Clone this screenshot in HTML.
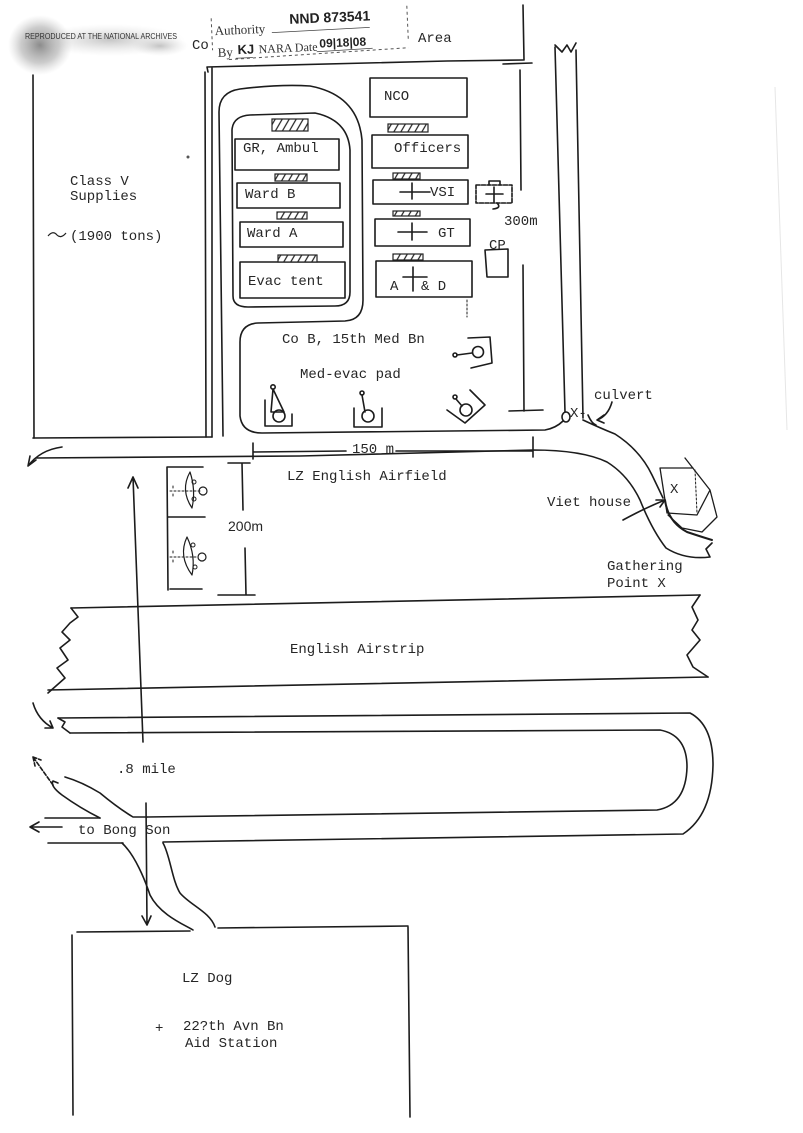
<!DOCTYPE html>
<html><head><meta charset="utf-8"><style>
html,body{margin:0;padding:0;background:#fff;}
svg{display:block}
.t{font-family:"Liberation Mono",monospace;font-size:14px;fill:#262626}
.s{font-family:"Liberation Serif",serif;fill:#333}
.h{font-family:"Liberation Sans",sans-serif;font-weight:bold;fill:#222}
</style></head><body>
<svg width="803" height="1133" viewBox="0 0 803 1133" xmlns="http://www.w3.org/2000/svg">
<defs>
<pattern id="hatch" width="7" height="10" patternUnits="userSpaceOnUse" patternTransform="skewX(-30)">
<rect width="7" height="10" fill="#fff"/>
<line x1="1" y1="0" x2="1" y2="10" stroke="#222" stroke-width="1.4"/>
</pattern>
<radialGradient id="sm1" cx="50%" cy="50%" r="50%">
<stop offset="0" stop-color="#777" stop-opacity="0.85"/>
<stop offset="0.6" stop-color="#999" stop-opacity="0.5"/>
<stop offset="1" stop-color="#bbb" stop-opacity="0"/>
</radialGradient>
<radialGradient id="sm2" cx="50%" cy="50%" r="50%">
<stop offset="0" stop-color="#999" stop-opacity="0.55"/>
<stop offset="1" stop-color="#ccc" stop-opacity="0"/>
</radialGradient>
</defs>

<!-- header smudge -->
<ellipse cx="40" cy="45" rx="32" ry="30" fill="url(#sm1)"/>
<ellipse cx="110" cy="40" rx="75" ry="16" fill="url(#sm2)"/>
<ellipse cx="160" cy="46" rx="28" ry="10" fill="url(#sm2)"/>
<text x="25" y="39" font-family="Liberation Sans, sans-serif" font-size="8" fill="#333" textLength="152" lengthAdjust="spacingAndGlyphs">REPRODUCED AT THE NATIONAL ARCHIVES</text>

<!-- stamp -->
<g transform="rotate(-2.5 310 35)">
<path d="M212,14 L212,46 M408,10 L408,44 M228,56 L408,52" stroke="#555" stroke-width="1" stroke-dasharray="3 3" fill="none"/>
<text x="215" y="31" class="s" font-size="13">Authority</text>
<text x="290" y="23" class="h" font-size="14">NND 873541</text>
<line x1="272" y1="31" x2="370" y2="30" stroke="#444" stroke-width="0.8"/>
<text x="217" y="53" class="s" font-size="13">By</text>
<text x="237" y="51" class="h" font-size="13">KJ</text>
<line x1="235" y1="55" x2="252" y2="55" stroke="#444" stroke-width="0.8"/>
<text x="258" y="51" class="s" font-size="12">NARA Date</text>
<text x="319" y="48" class="h" font-size="12">09|18|08</text>
<line x1="316" y1="52" x2="372" y2="51" stroke="#444" stroke-width="0.8"/>
</g>
<text x="192" y="49" class="t" font-size="13">Co</text>
<text x="418" y="42" class="t" font-size="13">Area</text>

<g fill="none" stroke="#1c1c1c" stroke-width="1.6" stroke-linecap="round" stroke-linejoin="round">
<!-- top box right edge -->
<path d="M523,5 L524,60"/>
<!-- Class V area -->
<path d="M33,75 L34,438"/>
<path d="M205,72 L206,437"/>
<path d="M33,438 L212,437"/>
<!-- compound -->
<path d="M208,72 L207,67 L447,61 L523,60"/>
<path d="M212,68 L212,437"/>
<path d="M503,64 L532,63"/>
<path d="M520,70 L521,190"/>
<path d="M523,265 L524,411"/>
<path d="M509,411 L543,410"/>
<!-- loop outer -->
<path d="M223,436 L219,112 Q219,92 240,89 Q280,84 310,86 Q358,95 362,140 L363,300 Q363,320 345,321 L258,323 Q240,324 240,342 L240,416 Q242,433 262,433 L545,430 Q556,428 563,421"/>
<!-- loop inner -->
<path d="M233,296 L232,130 Q233,116 250,115 L315,113 Q348,120 350,150 L350,292 Q350,306 335,306 L248,307 Q233,307 233,296 Z"/>
<!-- buildings left -->
<rect x="235" y="139" width="104" height="31"/>
<rect x="237" y="183" width="103" height="25"/>
<rect x="240" y="222" width="103" height="25"/>
<rect x="240" y="262" width="105" height="36"/>
<!-- buildings right -->
<rect x="370" y="78" width="97" height="39"/>
<rect x="372" y="135" width="96" height="33"/>
<rect x="373" y="180" width="95" height="24"/>
<rect x="375" y="219" width="95" height="27"/>
<rect x="376" y="261" width="96" height="36"/>
<path d="M467,300 L467,317" stroke-dasharray="2 2" stroke-width="1"/>
<!-- crosses -->
<path d="M400,192 L430,192 M412,183 L412,199"/>
<path d="M398,232 L427,232 M412,223 L412,240"/>
<path d="M403,277 L427,277 M413,267 L413,291"/>
<!-- medic box & CP -->
<rect x="476" y="185" width="36" height="18" stroke-dasharray="4 1.5"/>
<path d="M489,185 L489,181 L500,181 L500,185 M486,194 L503,194 M494,187 L494,202 M497,203 Q502,208 493,209"/>
<path d="M485,250 L508,249 L508,277 L487,277 Z"/>
<!-- med-evac pads -->
<circle cx="273" cy="387" r="2.2"/>
<path d="M273,389 L271,412 L284,412 Z"/>
<circle cx="279" cy="416" r="6"/>
<path d="M265,400 L265,426 L292,426 L292,414"/>
<circle cx="362" cy="393" r="2"/>
<path d="M362,395 L365,412"/>
<circle cx="368" cy="416" r="6"/>
<path d="M354,408 L354,427 L382,427 L382,408"/>
<circle cx="455" cy="397" r="2"/>
<path d="M456,399 L462,406"/>
<circle cx="466" cy="410" r="6"/>
<path d="M447,410 L465,423 L485,405 M470,390 L485,405"/>
<circle cx="455" cy="355" r="2"/>
<path d="M457,355 L472,353"/>
<circle cx="478" cy="352" r="5.5"/>
<path d="M468,338 L490,337 L492,363 L471,368"/>
<!-- 150 m dimension -->
<path d="M253,452 L346,451 M396,451 L533,451 M253,443 L253,459 M533,437 L533,457"/>
<!-- road -->
<path d="M36,458 L300,456 L533,450 Q582,450 607,462 Q628,475 640,500 Q652,530 666,548 Q685,560 710,557 L706,549 L712,543"/>
<path d="M583,420 Q600,428 615,434 Q640,450 652,475 L663,498"/>
<path d="M62,447 Q40,450 28,466 M28,466 L36,460 M28,466 L30,456"/>
<!-- right road -->
<path d="M555,45 L562,52 L567,45 L571,52 L576,43"/>
<path d="M555,47 L565,412"/>
<path d="M576,50 L583,418"/>
<!-- culvert -->
<ellipse cx="566" cy="417" rx="4" ry="5"/>
<path d="M612,402 Q608,416 597,420 M597,420 L604,415 M597,420 L604,423"/>
<path d="M588,415 Q592,424 596,425"/>
<!-- house -->
<path d="M660,468 L693,468 M685,458 L710,490 L717,517 L702,532 M660,468 L667,513 L697,515 L710,490 M668,515 L682,528 L702,532" stroke-width="1.3"/>
<path d="M695,470 L697,513" stroke-dasharray="2 2" stroke-width="1"/>
<path d="M665,500 Q668,522 687,532 Q702,537 712,540" stroke-width="2"/>
<path d="M623,520 Q645,508 665,500 M665,500 L656,500 M665,500 L660,507"/>
<!-- helicopters left box -->
<path d="M167,467 L168,590 M167,467 L203,467 M168,517 L205,517 M170,589 L202,589"/>
<path d="M190,472 Q180,490 192,508 Q196,490 190,472 Z" stroke-width="1.2"/>
<circle cx="203" cy="491" r="4" stroke-width="1.2"/>
<circle cx="194" cy="482" r="2" stroke-width="1"/>
<circle cx="194" cy="499" r="2" stroke-width="1"/>
<path d="M170,491 L200,491 M173,486 L173,488 M173,494 L173,496" stroke-width="1" stroke-dasharray="2 2"/>
<path d="M187,537 Q178,556 192,575 Q196,556 187,537 Z" stroke-width="1.2"/>
<circle cx="202" cy="557" r="4" stroke-width="1.2"/>
<circle cx="193" cy="545" r="2" stroke-width="1"/>
<circle cx="195" cy="567" r="2" stroke-width="1"/>
<path d="M170,557 L198,557 M173,551 L173,553 M173,560 L173,562" stroke-width="1" stroke-dasharray="2 2"/>
<!-- 200m dimension -->
<path d="M228,463 L250,463 M242,463 L243,510 M245,548 L246,595 M218,595 L255,595"/>
<!-- vertical arrows -->
<path d="M133,477 L143,742 M133,477 L128,488 M133,477 L138,488"/>
<path d="M146,803 L147,925 M147,925 L142,916 M147,925 L151,916"/>
<!-- airstrip -->
<path d="M71,608 L700,595"/>
<path d="M48,690 L708,677"/>
<path d="M71,608 L78,617 L70,623 L62,632 L70,640 L60,648 L68,660 L57,668 L65,678 L48,693"/>
<path d="M700,595 L692,607 L698,620 L692,630 L700,640 L687,655 L693,667 L708,677"/>
<!-- loop road -->
<path d="M58,718 L690,713 Q713,725 713,765 Q712,815 683,834 L163,842"/>
<path d="M70,733 L660,730 Q687,735 687,767 Q686,805 657,810 L147,817"/>
<path d="M58,718 L65,722 L62,727 L70,733"/>
<path d="M33,703 Q38,720 53,728 M53,728 L45,728 M53,728 L50,721"/>
<!-- Bong Son road -->
<path d="M45,818 L100,818 M48,843 L123,843"/>
<path d="M30,827 L62,827 M30,827 L39,822 M30,827 L39,832"/>
<path d="M100,818 Q80,808 62,795 Q50,786 53,781 L58,783"/>
<path d="M65,777 Q82,782 100,793 Q118,808 133,817 L147,817"/>
<path d="M53,785 L33,757 M33,757 L35,766 M33,757 L41,760" stroke-dasharray="4 2"/>
<path d="M122,843 C135,855 145,880 150,895 C160,915 185,925 193,930"/>
<path d="M163,843 C170,855 172,880 180,893 C190,905 210,912 215,927"/>
<!-- LZ Dog -->
<path d="M77,932 L190,931 M218,928 L408,926"/>
<path d="M72,935 L73,1115 M408,927 L410,1117"/>
</g>

<!-- hatch labels -->
<g stroke="#222" stroke-width="1.2" fill="url(#hatch)">
<rect x="272" y="119" width="36" height="12"/>
<rect x="275" y="174" width="32" height="7"/>
<rect x="277" y="212" width="30" height="7"/>
<rect x="278" y="255" width="39" height="7"/>
<rect x="388" y="124" width="40" height="8"/>
<rect x="393" y="173" width="27" height="6"/>
<rect x="393" y="211" width="27" height="5"/>
<rect x="393" y="254" width="30" height="6"/>
</g>

<!-- faint right edge -->
<path d="M775,87 L787,430" stroke="#e6e6e6" stroke-width="1" fill="none"/>
<circle cx="188" cy="157" r="1.5" fill="#555"/>

<!-- texts -->
<text x="70" y="185" class="t">Class V</text>
<text x="70" y="200" class="t">Supplies</text>
<path d="M48,236 Q53,230 57,235 Q61,239 66,233" stroke="#222" stroke-width="1.2" fill="none"/>
<text x="70" y="240" class="t">(1900 tons)</text>
<text x="384" y="100" class="t">NCO</text>
<text x="243" y="152" class="t">GR, Ambul</text>
<text x="394" y="152" class="t">Officers</text>
<text x="245" y="198" class="t">Ward B</text>
<text x="430" y="196" class="t">VSI</text>
<text x="247" y="237" class="t">Ward A</text>
<text x="438" y="237" class="t">GT</text>
<text x="248" y="285" class="t">Evac tent</text>
<text x="390" y="290" class="t">A</text>
<text x="421" y="290" class="t">&amp; D</text>
<text x="504" y="225" class="t">300m</text>
<text x="489" y="249" class="t">CP</text>
<text x="282" y="343" class="t">Co B, 15th Med Bn</text>
<text x="300" y="378" class="t">Med-evac pad</text>
<text x="352" y="453" class="t">150 m</text>
<text x="287" y="480" class="t">LZ English Airfield</text>
<text x="594" y="399" class="t">culvert</text>
<text x="570" y="417" class="t" font-size="11">X-</text>
<text x="547" y="506" class="t">Viet house</text>
<text x="670" y="493" class="t" font-size="12">X</text>
<text x="607" y="570" class="t">Gathering</text>
<text x="607" y="587" class="t">Point  X</text>
<text x="228" y="531" font-family="Liberation Sans, sans-serif" font-size="14" fill="#262626">200m</text>
<text x="290" y="653" class="t">English Airstrip</text>
<text x="117" y="773" class="t">.8 mile</text>
<text x="78" y="834" class="t">to Bong Son</text>
<text x="182" y="982" class="t">LZ Dog</text>
<text x="155" y="1032" class="t">+</text>
<text x="183" y="1030" class="t">22?th Avn Bn</text>
<text x="185" y="1047" class="t">Aid Station</text>
</svg>
</body></html>
